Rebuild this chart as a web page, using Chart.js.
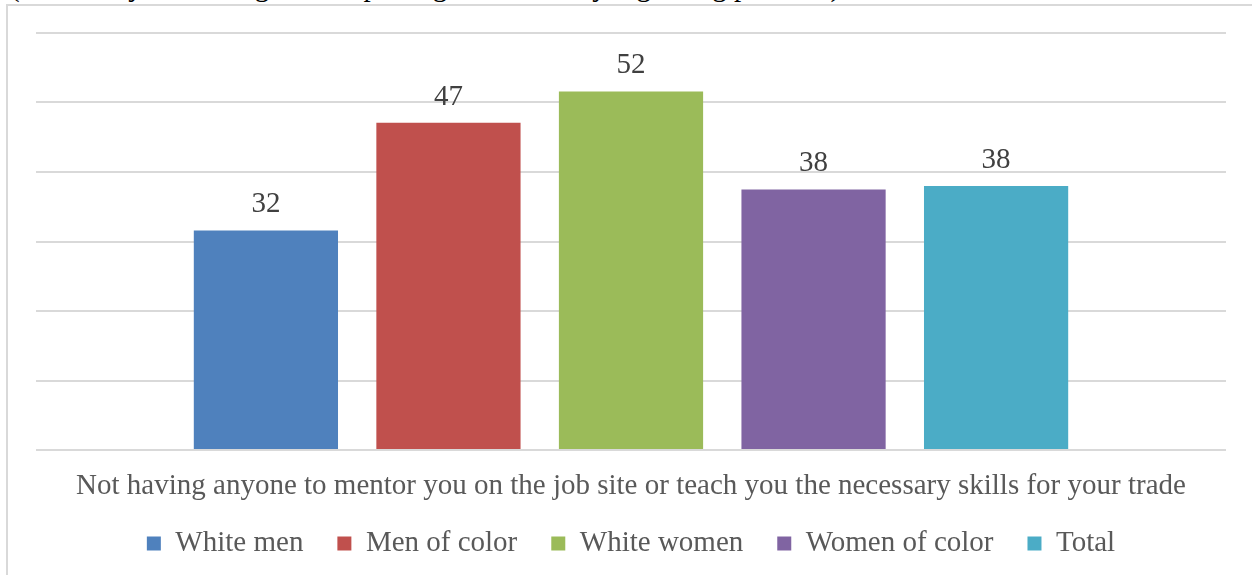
<!DOCTYPE html>
<html>
<head>
<meta charset="utf-8">
<script src="https://cdn.jsdelivr.net/npm/chart.js@4/dist/chart.umd.min.js"></script>
<style>
  html, body { margin: 0; padding: 0; background: #fff; }
  body { width: 1252px; height: 575px; position: relative; overflow: hidden; font-family: "Liberation Serif", serif; }
  .cut { position: absolute; left: 10px; top: -30px; font-size: 29px; color: #000; white-space: nowrap; }
  .frame { position: absolute; left: 6px; top: 4px; width: 1260px; height: 580px; border-left: 2px solid #d9d9d9; border-top: 2px solid #d9d9d9; background: #fff; }
  .wrap { position: absolute; left: 8px; top: 6px; width: 1244px; height: 569px; }
</style>
</head>
<body>
<div class="cut">(Percent by race and gender reporting this as a very big or big problem)</div>
<div class="frame"></div>
<div class="wrap"><canvas id="chart"></canvas></div>
<script>
const categories = ["Not having anyone to mentor you on the job site or teach you the necessary skills for your trade"];
const groups = ["White men", "Men of color", "White women", "Women of color", "Total"];
const values = [31.6, 47.1, 51.6, 37.5, 38.0];
const labels = ["32", "47", "52", "38", "38"];
const colors = ["#4f81bd", "#c0504d", "#9bbb59", "#8064a2", "#4bacc6"];
const yTicks = [0, 10, 20, 30, 40, 50, 60];

const FONT = "Liberation Serif";

// value labels above bars + category label under the axis
const textLayer = {
  id: "textLayer",
  afterDatasetsDraw(chart) {
    const ctx = chart.ctx;
    ctx.save();
    ctx.font = '29px "' + FONT + '"';
    ctx.textAlign = "center";
    ctx.fillStyle = "#404040";
    ctx.textBaseline = "bottom";
    chart.data.datasets.forEach((ds, i) => {
      const bar = chart.getDatasetMeta(i).data[0];
      ctx.fillText(labels[i], bar.x, bar.y - 11);
    });
    const x = chart.scales.x;
    ctx.fillStyle = "#595959";
    ctx.textBaseline = "middle";
    chart.data.labels.forEach((lbl, i) => {
      ctx.fillText(lbl, x.getPixelForValue(i), chart.chartArea.bottom + 36);
    });
    ctx.restore();
  }
};

new Chart(document.getElementById("chart"), {
  type: "bar",
  data: {
    labels: categories,
    datasets: groups.map((g, i) => ({
      label: g,
      data: [values[i]],
      backgroundColor: colors[i],
      barPercentage: 0.79,
      categoryPercentage: 0.767
    }))
  },
  options: {
    responsive: true,
    maintainAspectRatio: false,
    animation: false,
    layout: { padding: { left: 28, right: 26, top: 27, bottom: 7 } },
    scales: {
      y: {
        min: 0,
        max: 60,
        afterBuildTicks: axis => { axis.ticks = yTicks.map(v => ({ value: v })); },
        ticks: { display: false },
        border: { display: false },
        grid: { color: "#d9d9d9", lineWidth: 2, drawTicks: false }
      },
      x: {
        grid: { display: false },
        border: { display: false },
        ticks: { display: false },
        afterFit: axis => { axis.height = 45; }
      }
    },
    plugins: {
      legend: {
        position: "bottom",
        labels: {
          color: "#595959",
          font: { family: FONT, size: 29 },
          boxWidth: 14,
          boxHeight: 14,
          padding: 34
        }
      },
      tooltip: { enabled: false }
    }
  },
  plugins: [textLayer]
});
</script>
</body>
</html>
